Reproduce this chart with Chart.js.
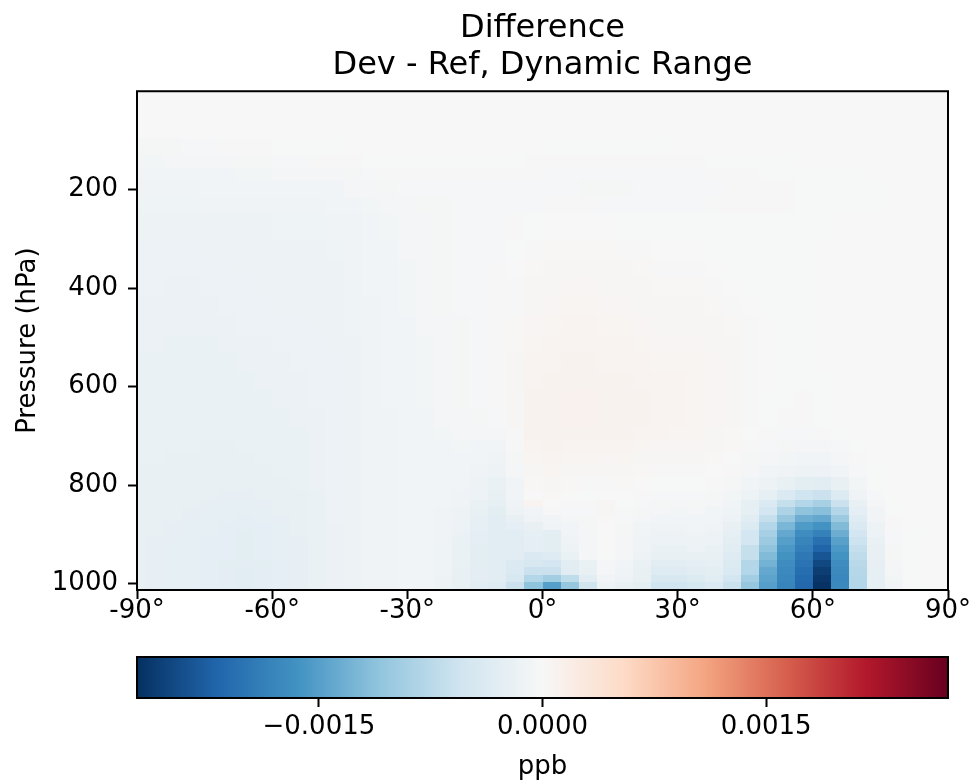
<!DOCTYPE html>
<html>
<head>
<meta charset="utf-8">
<script src="https://cdn.jsdelivr.net/npm/chart.js@4.4.1/dist/chart.umd.min.js"></script>
<style>
  body { margin: 0; background: #fff; }
  #wrap { position: relative; width: 973px; height: 783px; }
  canvas { position: absolute; left: 0; }
  #field { top: 0; }
  #cbar { top: 640px; }
</style>
</head>
<body>
<div id="wrap">
  <canvas id="field" width="973" height="640"></canvas>
  <canvas id="cbar" width="973" height="143"></canvas>
</div>
<script>
// grid cell edges: latitude (deg) and pressure (hPa, top -> surface)
const latEdges = [-90, -88, -84, -80, -76, -72, -68, -64, -60, -56, -52, -48, -44, -40, -36, -32,
  -28, -24, -20, -16, -12, -8, -4, 0, 4, 8, 12, 16, 20, 24, 28, 32, 36, 40, 44, 48, 52, 56, 60,
  64, 68, 72, 76, 80, 84, 88, 90];
const presEdges = [0.01, 95, 128, 156, 180, 216, 250, 305, 342, 379, 417, 455, 495, 531, 570, 606,
  643, 683, 708, 733, 759, 784, 810, 830, 845, 860, 876, 891, 906, 922, 937, 952, 967, 983, 998, 1013.25];

// zonal mean Dev - Ref, in units of 1e-5 ppb, one row per pressure layer (top first)
const VALUE_UNIT = 1e-5;
const diffRows = [
  [0,0,0,0,0,0,0,0,0,0,  0,0,0,0,0,0,0,0,0,0,  0,0,0,0,0,0,0,0,0,0,  0,0,0,0,0,0,0,0,0,0,  0,0,0,0,0,0],
  [-4,-4,-4,-3,-3,-2,-2,-2,-1,-1,  -1,-1,0,0,0,0,0,0,0,0,  0,0,0,-1,-1,-1,-1,-1,-1,-1,  0,0,0,0,0,0,0,0,0,0,  0,0,0,0,0,0],
  [-7,-7,-6,-6,-5,-5,-4,-4,-3,-3,  -2,-2,-2,-1,-1,-1,-1,-1,-1,-1,  -1,-1,-2,-2,-2,-2,-2,-2,-2,-2,  -2,-2,-1,-1,-1,-1,-1,0,0,0,  0,0,0,0,0,0],
  [-9,-9,-9,-8,-8,-8,-7,-7,-6,-6,  -5,-5,-4,-3,-2,-2,-2,-2,-2,-2,  -2,-2,-2,-3,-3,-3,-3,-3,-3,-3,  -3,-3,-2,-2,-2,-1,-1,-1,-1,-1,  -1,0,0,0,0,0],
  [-11,-11,-11,-11,-10,-10,-10,-9,-9,-9,  -8,-8,-6,-5,-4,-3,-3,-3,-3,-3,  -3,-3,-3,-3,-3,-4,-4,-4,-3,-3,  -3,-3,-3,-2,-2,-2,-2,-1,-1,-1,  -1,-1,0,0,0,0],
  [-13,-13,-13,-13,-12,-12,-12,-12,-12,-11,  -11,-10,-9,-7,-6,-5,-4,-4,-3,-3,  -3,-3,-3,-2,-2,-2,-3,-3,-3,-3,  -3,-3,-2,-2,-2,-2,-2,-1,-1,-1,  -1,-1,0,0,0,0],
  [-15,-15,-15,-15,-14,-14,-14,-14,-13,-13,  -13,-12,-11,-9,-7,-6,-5,-4,-3,-3,  -3,-2,-1,0,0,0,0,-1,-1,-1,  -1,-1,-1,-1,-1,-1,-1,-1,-1,0,  0,0,0,0,0,0],
  [-16,-16,-16,-16,-15,-15,-15,-15,-14,-14,  -14,-13,-12,-10,-8,-6,-5,-4,-3,-3,  -3,-1,1,2,2,2,2,1,1,0,  0,0,-1,-1,-1,-1,-1,-1,0,0,  0,0,0,0,0,0],
  [-16,-16,-16,-16,-16,-16,-15,-15,-15,-15,  -14,-14,-12,-10,-8,-7,-5,-4,-3,-3,  -2,0,2,3,4,4,3,3,2,1,  1,1,0,-1,-1,-1,-1,-1,0,0,  0,0,0,0,0,0],
  [-16,-16,-17,-17,-16,-16,-16,-15,-15,-15,  -15,-14,-13,-10,-8,-7,-5,-4,-3,-3,  -2,1,3,4,5,5,4,4,3,2,  2,2,1,0,-1,-1,-1,-1,0,0,  0,0,0,0,0,0],
  [-17,-17,-17,-17,-17,-16,-16,-16,-15,-15,  -15,-14,-13,-11,-9,-7,-6,-4,-3,-3,  -2,1,4,5,6,6,5,5,4,3,  3,3,2,1,0,-1,-1,-1,0,0,  0,0,0,0,0,0],
  [-17,-17,-17,-17,-17,-17,-16,-16,-16,-16,  -15,-15,-13,-11,-9,-8,-6,-5,-4,-3,  -2,2,5,6,7,7,6,6,5,4,  4,4,3,2,1,0,-1,-1,0,0,  0,0,0,0,0,0],
  [-17,-17,-18,-18,-18,-17,-17,-17,-16,-16,  -16,-15,-14,-12,-10,-8,-7,-5,-4,-3,  -2,2,6,7,8,8,7,7,6,5,  5,5,4,3,1,0,-1,-1,0,0,  0,0,0,0,0,0],
  [-18,-18,-18,-18,-18,-18,-17,-17,-17,-16,  -16,-16,-14,-12,-10,-9,-7,-5,-4,-3,  -2,3,7,8,9,9,8,8,7,6,  6,6,5,3,1,0,-1,-1,0,0,  0,0,0,0,0,0],
  [-18,-18,-18,-18,-18,-18,-18,-17,-17,-17,  -16,-16,-14,-12,-10,-9,-7,-6,-4,-3,  -2,3,8,9,10,10,9,9,8,7,  7,6,5,3,1,0,-1,-1,-1,0,  0,0,0,0,0,0],
  [-18,-18,-19,-19,-19,-18,-18,-18,-17,-17,  -16,-16,-14,-12,-10,-9,-7,-6,-4,-3,  -2,3,9,10,11,11,10,10,9,8,  7,6,5,3,1,-1,-1,-2,-1,0,  0,0,0,0,0,0],
  [-19,-19,-19,-19,-19,-19,-18,-18,-18,-17,  -17,-16,-14,-12,-11,-9,-8,-6,-5,-4,  -3,3,9,10,11,11,10,10,9,8,  7,6,5,3,1,-1,-2,-2,-1,0,  0,0,0,0,0,0],
  [-19,-19,-19,-19,-19,-19,-19,-18,-18,-18,  -17,-16,-14,-12,-11,-9,-8,-7,-6,-6,  -6,1,9,10,10,10,9,10,8,7,  6,6,4,2,0,-2,-3,-3,-2,-1,  0,0,0,0,0,0],
  [-19,-19,-19,-19,-20,-20,-19,-19,-18,-18,  -17,-16,-14,-12,-11,-10,-8,-8,-7,-8,  -10,-2,8,9,8,8,7,8,6,5,  5,5,3,2,-2,-3,-4,-5,-5,-3,  -1,0,0,0,0,0],
  [-19,-19,-20,-20,-20,-20,-20,-19,-19,-18,  -17,-16,-14,-12,-11,-10,-9,-8,-8,-10,  -12,-4,6,8,6,6,5,6,4,3,  3,3,2,0,-4,-5,-7,-8,-9,-5,  -2,0,0,0,0,0],
  [-20,-20,-20,-20,-21,-21,-21,-20,-19,-19,  -17,-16,-14,-12,-11,-10,-9,-9,-9,-12,  -14,-6,4,6,4,3,3,4,2,1,  1,1,0,-2,-6,-9,-12,-15,-16,-10,  -3,-1,0,0,0,0],
  [-20,-20,-21,-21,-21,-22,-22,-21,-20,-19,  -17,-16,-14,-12,-11,-10,-9,-9,-10,-14,  -18,-8,2,4,2,1,1,2,0,-1,  -1,-1,-2,-4,-10,-15,-22,-28,-30,-20,  -7,-1,0,0,0,0],
  [-20,-21,-21,-22,-22,-23,-23,-22,-21,-20,  -18,-16,-14,-12,-11,-10,-9,-9,-11,-16,  -22,-10,0,2,0,-1,0,0,-2,-3,  -3,-3,-4,-7,-15,-25,-40,-55,-60,-38,  -12,-3,0,0,0,0],
  [-21,-21,-22,-22,-23,-24,-24,-23,-22,-20,  -18,-16,-14,-12,-11,-10,-9,-10,-12,-18,  -25,-12,8,0,-2,-2,4,-1,-3,-4,  -5,-4,-6,-10,-25,-40,-65,-80,-90,-60,  -20,-6,-1,0,0,0],
  [-21,-21,-22,-23,-24,-25,-25,-24,-22,-21,  -18,-16,-14,-12,-11,-10,-10,-11,-14,-22,  -28,-14,-8,-2,-3,-3,4,-2,-4,-6,  -7,-6,-8,-13,-25,-50,-85,-110,-115,-80,  -26,-8,-1,0,0,0],
  [-21,-22,-22,-23,-24,-25,-26,-25,-23,-21,  -18,-16,-14,-12,-11,-10,-10,-12,-15,-24,  -30,-20,-12,-10,-5,-4,2,-3,-6,-9,  -9,-8,-10,-16,-32,-65,-105,-135,-140,-100,  -34,-10,-2,0,0,0],
  [-22,-22,-23,-24,-25,-26,-27,-26,-24,-22,  -19,-17,-14,-12,-11,-10,-10,-12,-16,-25,  -30,-26,-20,-12,-8,-4,0,-4,-8,-12,  -12,-10,-12,-20,-38,-80,-125,-155,-165,-120,  -42,-14,-2,0,0,0],
  [-22,-22,-23,-24,-25,-27,-28,-27,-25,-22,  -19,-17,-14,-12,-11,-10,-10,-12,-17,-26,  -30,-30,-25,-28,-10,-5,0,-4,-10,-14,  -14,-12,-14,-24,-50,-90,-140,-170,-185,-135,  -50,-16,-3,-1,0,0],
  [-22,-23,-24,-25,-26,-27,-28,-27,-25,-23,  -19,-17,-14,-12,-11,-10,-10,-13,-18,-27,  -30,-30,-26,-28,-12,-5,0,-5,-11,-16,  -16,-14,-16,-28,-50,-100,-150,-180,-205,-148,  -58,-18,-3,-1,0,0],
  [-22,-23,-24,-25,-26,-27,-28,-27,-25,-23,  -19,-17,-14,-12,-11,-10,-10,-13,-18,-28,  -30,-30,-27,-28,-14,-5,0,-5,-12,-18,  -18,-16,-18,-30,-65,-110,-158,-188,-220,-158,  -65,-20,-4,-1,0,0],
  [-22,-23,-24,-25,-26,-27,-28,-27,-25,-23,  -19,-17,-14,-12,-11,-10,-10,-13,-19,-28,  -30,-32,-40,-35,-18,-6,-1,-6,-14,-22,  -22,-20,-22,-35,-65,-120,-165,-196,-235,-165,  -70,-22,-4,-1,0,0],
  [-22,-23,-24,-25,-26,-28,-29,-28,-26,-23,  -19,-17,-14,-12,-11,-10,-10,-13,-19,-28,  -30,-40,-45,-50,-30,-18,-5,-10,-18,-30,  -30,-26,-24,-38,-80,-130,-170,-202,-248,-170,  -75,-23,-5,-1,0,0],
  [-22,-23,-24,-25,-27,-29,-30,-29,-26,-23,  -19,-17,-14,-12,-11,-10,-10,-13,-20,-29,  -30,-42,-60,-60,-30,-20,-6,-12,-20,-35,  -35,-30,-28,-40,-80,-140,-175,-208,-258,-175,  -78,-24,-6,-1,0,0],
  [-22,-23,-24,-25,-27,-29,-30,-29,-26,-23,  -19,-17,-14,-12,-11,-10,-10,-14,-20,-29,  -32,-45,-80,-95,-70,-30,-10,-16,-22,-45,  -45,-38,-32,-50,-95,-145,-178,-212,-265,-178,  -80,-25,-7,-1,0,0],
  [-22,-23,-24,-25,-27,-29,-30,-29,-26,-23,  -19,-17,-14,-12,-11,-10,-10,-14,-20,-30,  -35,-60,-110,-150,-105,-55,-15,-20,-28,-55,  -55,-48,-40,-60,-105,-150,-180,-215,-270,-175,  -80,-25,-8,-1,0,0]
];

const latTicks = [-90, -60, -30, 0, 30, 60, 90];
const presTicks = [200, 400, 600, 800, 1000];
const cbarTicks = [-0.0015, 0, 0.0015];
const cbarLabels = ['\u22120.0015', '0.0000', '0.0015'];
const vmax = 0.00272;

// RdBu reversed: low (blue) -> high (red)
const rdbuStops = ['#053061', '#2166ac', '#4393c3', '#92c5de', '#d1e5f0', '#f7f7f7',
  '#fddbc7', '#f4a582', '#d6604d', '#b2182b', '#67001f'];
const stopRgb = rdbuStops.map(h => [1, 3, 5].map(i => parseInt(h.substr(i, 2), 16)));

function rdbu(v) {
  let t = (v + vmax) / (2 * vmax);
  t = Math.min(1, Math.max(0, t)) * (stopRgb.length - 1);
  const i = Math.min(stopRgb.length - 2, Math.floor(t));
  const f = t - i;
  const c = stopRgb[i].map((a, k) => Math.round(a + (stopRgb[i + 1][k] - a) * f));
  return `rgb(${c[0]},${c[1]},${c[2]})`;
}

Chart.defaults.font.family = "'DejaVu Sans', sans-serif";
Chart.defaults.color = '#000';

const frame = {
  id: 'frame',
  afterDraw(chart) {
    const { ctx, chartArea: a } = chart;
    ctx.save();
    ctx.strokeStyle = '#000';
    ctx.lineWidth = 2;
    ctx.strokeRect(a.left, a.top, a.right - a.left, a.bottom - a.top);
    ctx.restore();
  }
};

const heatmap = {
  id: 'heatmap',
  beforeDatasetsDraw(chart) {
    const { ctx, chartArea: a, scales: { x, y } } = chart;
    ctx.save();
    ctx.beginPath();
    ctx.rect(a.left, a.top, a.right - a.left, a.bottom - a.top);
    ctx.clip();
    diffRows.forEach((row, j) => {
      const y0 = Math.round(y.getPixelForValue(presEdges[j]));
      const y1 = Math.round(y.getPixelForValue(presEdges[j + 1]));
      row.forEach((v, i) => {
        const x0 = Math.round(x.getPixelForValue(latEdges[i]));
        const x1 = Math.round(x.getPixelForValue(latEdges[i + 1]));
        ctx.fillStyle = rdbu(v * VALUE_UNIT);
        ctx.fillRect(x0, y0, x1 - x0, y1 - y0);
      });
    });
    ctx.restore();
  }
};

const tickGrid = { display: true, drawOnChartArea: false, drawTicks: true, tickLength: 9, tickWidth: 2, tickColor: '#000' };

new Chart(document.getElementById('field'), {
  type: 'scatter',
  data: { datasets: [{ data: [] }] },
  options: {
    responsive: false,
    animation: false,
    devicePixelRatio: 1,
    layout: { padding: { left: 0, right: 25, top: 0, bottom: 0 } },
    plugins: {
      legend: { display: false },
      tooltip: { enabled: false },
      title: {
        display: true,
        fullSize: false,
        text: ['Difference', 'Dev - Ref, Dynamic Range'],
        font: { size: 32, weight: 'normal', lineHeight: 1.16 },
        padding: { top: 10, bottom: 7 }
      }
    },
    scales: {
      x: {
        type: 'linear', min: -90, max: 90,
        afterBuildTicks: s => { s.ticks = latTicks.map(v => ({ value: v })); },
        afterFit: s => { s.height = 50; },
        ticks: { font: { size: 26 }, padding: -3, maxRotation: 0, callback: v => v + '\u00b0' },
        grid: tickGrid,
        border: { display: false }
      },
      y: {
        type: 'linear', reverse: true, min: 0.01, max: 1013.25,
        afterBuildTicks: s => { s.ticks = presTicks.map(v => ({ value: v })); },
        afterFit: s => { s.width = 137; },
        ticks: { font: { size: 26 }, padding: 10, callback: v => String(v) },
        grid: tickGrid,
        border: { display: false },
        title: { display: true, text: 'Pressure (hPa)', font: { size: 26 }, padding: { top: 13, bottom: 0 } }
      }
    }
  },
  plugins: [heatmap, frame]
});

const colorbar = {
  id: 'colorbar',
  beforeDatasetsDraw(chart) {
    const { ctx, chartArea: a, scales: { x } } = chart;
    const x0 = x.getPixelForValue(-vmax);
    const x1 = x.getPixelForValue(vmax);
    const g = ctx.createLinearGradient(x0, 0, x1, 0);
    rdbuStops.forEach((c, i) => g.addColorStop(i / (rdbuStops.length - 1), c));
    ctx.save();
    ctx.fillStyle = g;
    ctx.fillRect(a.left, a.top, a.right - a.left, a.bottom - a.top);
    ctx.restore();
  }
};

new Chart(document.getElementById('cbar'), {
  type: 'scatter',
  data: { datasets: [{ data: [] }] },
  options: {
    responsive: false,
    animation: false,
    devicePixelRatio: 1,
    layout: { padding: { left: 137, right: 25, top: 17, bottom: 0 } },
    plugins: { legend: { display: false }, tooltip: { enabled: false } },
    scales: {
      x: {
        type: 'linear', min: -vmax, max: vmax,
        afterBuildTicks: s => { s.ticks = cbarTicks.map(v => ({ value: v })); },
        afterFit: s => { s.height = 85; },
        ticks: { font: { size: 26 }, padding: 5, maxRotation: 0,
          callback: v => cbarLabels[cbarTicks.indexOf(v)] },
        grid: tickGrid,
        border: { display: false },
        title: { display: true, text: 'ppb', font: { size: 26 }, padding: { top: 4, bottom: 0 } }
      },
      y: { display: false, min: 0, max: 1 }
    }
  },
  plugins: [colorbar, frame]
});
</script>
</body>
</html>
